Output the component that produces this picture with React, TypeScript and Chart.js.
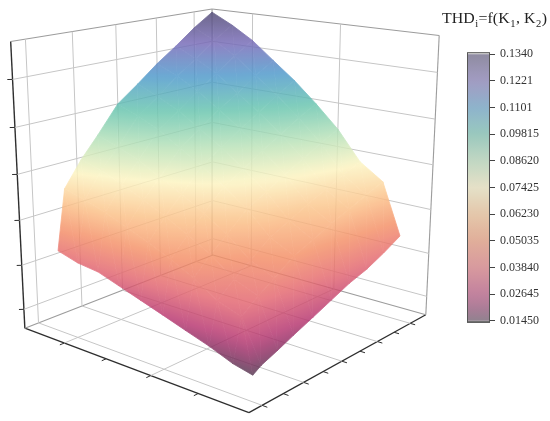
import React, { useEffect, useRef } from "react";
import { Chart, registerables } from "chart.js";

Chart.register(...registerables);

// ---------------- data ----------------
// K1 values (columns of the THD grid)
const K1 = [0.1, 0.2, 0.3, 0.4, 0.5, 0.6, 0.7, 0.78, 0.86, 0.9];
// K2 values (rows of the THD grid)
const K2 = [0.5, 0.75, 1.0, 1.25, 1.5, 1.75, 2.0, 2.25, 2.5, 2.7];

// THD_i = f(K1, K2): one row per K2 value, one column per K1 value
const THD_K2_050 = [0.134, 0.128, 0.121, 0.1145, 0.107, 0.1, 0.088, 0.079, 0.068, 0.041];
const THD_K2_075 = [0.129, 0.1233, 0.1165, 0.1103, 0.103, 0.0963, 0.0847, 0.0761, 0.0655, 0.0382];
const THD_K2_100 = [0.123, 0.1175, 0.1111, 0.1051, 0.0982, 0.0918, 0.0808, 0.0725, 0.0624, 0.037];
const THD_K2_125 = [0.115, 0.1098, 0.1038, 0.0982, 0.0918, 0.0858, 0.0755, 0.0678, 0.0583, 0.0337];
const THD_K2_150 = [0.1071, 0.1023, 0.0967, 0.0915, 0.0855, 0.0799, 0.0703, 0.0631, 0.0543, 0.0304];
const THD_K2_175 = [0.098, 0.0936, 0.0885, 0.0837, 0.0782, 0.0731, 0.0643, 0.0577, 0.0497, 0.0271];
const THD_K2_200 = [0.088, 0.0841, 0.0795, 0.0752, 0.0703, 0.0657, 0.0578, 0.0519, 0.0447, 0.0237];
const THD_K2_225 = [0.075, 0.0717, 0.0678, 0.0641, 0.0599, 0.056, 0.0493, 0.0442, 0.0381, 0.0204];
const THD_K2_250 = [0.0679, 0.0649, 0.0613, 0.0581, 0.0542, 0.0507, 0.0446, 0.0401, 0.0345, 0.0164];
const THD_K2_270 = [0.0448, 0.0403, 0.0364, 0.0337, 0.03, 0.0263, 0.0227, 0.0196, 0.0168, 0.0145];
const THD = [
  THD_K2_050, THD_K2_075, THD_K2_100, THD_K2_125, THD_K2_150,
  THD_K2_175, THD_K2_200, THD_K2_225, THD_K2_250, THD_K2_270,
];

// axis ranges and ticks (labels are hidden in the original)
const K1_AXIS = [0.1, 1.06];
const K2_AXIS = [0.5, 3.0];
const THD_AXIS = [0.0113, 0.1355];
const K1_TICKS = [0.2, 0.3, 0.4, 0.5, 0.6, 0.7, 0.8, 0.9, 1.0];
const K1_GRID = [0.2, 0.4, 0.6, 0.8, 1.0];
const K2_TICKS = [1.0, 1.5, 2.0, 2.5];
const K2_GRID = [1.0, 2.0];
const THD_TICKS = [0.02, 0.04, 0.06, 0.08, 0.1, 0.12];

// colour bar
const COLOR_RANGE = [0.0145, 0.134];
const CBAR_RANGE = [0.0136, 0.1349];
const CBAR_VALUES = [0.0145, 0.02645, 0.0384, 0.05035, 0.0623, 0.07425, 0.0862, 0.09815, 0.1101, 0.1221, 0.134];
const CBAR_LABELS = ["0.01450", "0.02645", "0.03840", "0.05035", "0.06230", "0.07425", "0.08620", "0.09815", "0.1101", "0.1221", "0.1340"];
const TITLE_PARTS: [string, boolean][] = [["THD", false], ["i", true], ["=f(K", false], ["1", true], [", K", false], ["2", true], [")", false]];

// ---------------- style / view ----------------
const VIEW = { azimuthDeg: 40, elevationDeg: 16, distance: 8.3 };
const VIEW_X_RANGE = [-1.5517, 2.1898];
const VIEW_Y_RANGE = [-1.6082, 1.2558];
const SURFACE_ALPHA = 0.82;
const GRID_COLOR = "#c6c6c6";
const EDGE_COLOR = "#9c9c9c";
const AXIS_COLOR = "#2e2e2e";
const SERIF = '"Liberation Serif", "DejaVu Serif", serif';

// colormap (apparent colours on white), position 0 = min, 1 = max
const CMAP: [number, number[]][] = [
  [0.0, [114, 88, 110]],
  [0.05, [160, 80, 125]],
  [0.1, [196, 88, 136]],
  [0.2, [232, 128, 136]],
  [0.3, [246, 162, 128]],
  [0.4, [252, 204, 156]],
  [0.5, [253, 246, 204]],
  [0.6, [194, 230, 196]],
  [0.7, [128, 206, 188]],
  [0.8, [108, 170, 212]],
  [0.9, [142, 132, 196]],
  [1.0, [110, 104, 140]],
];

function cmapRGB(t: number): number[] {
  const tt = Math.max(0, Math.min(1, t));
  for (let i = 0; i < CMAP.length - 1; i++) {
    const [t0, c0] = CMAP[i];
    const [t1, c1] = CMAP[i + 1];
    if (tt >= t0 && tt <= t1) {
      const k = (tt - t0) / (t1 - t0);
      return c0.map((c, j) => c + (c1[j] - c) * k);
    }
  }
  return CMAP[CMAP.length - 1][1];
}
function rgb(c: number[]) {
  return `rgb(${c.map((v) => Math.round(Math.max(0, Math.min(255, v)))).join(",")})`;
}
function surfaceColor(val: number) {
  const t = (val - COLOR_RANGE[0]) / (COLOR_RANGE[1] - COLOR_RANGE[0]);
  const c = cmapRGB(t);
  return rgb(c.map((v) => (v - (1 - SURFACE_ALPHA) * 255) / SURFACE_ALPHA));
}
function cbarColor(t: number) {
  const c = cmapRGB(t);
  return rgb(c.map((v) => 0.6 * v + 0.4 * 192));
}

// perspective projection of (K1, K2, THD) into view units
function project(k1: number, k2: number, t: number) {
  const az = (VIEW.azimuthDeg * Math.PI) / 180;
  const el = (VIEW.elevationDeg * Math.PI) / 180;
  const s = Math.sin(az), c = Math.cos(az), se = Math.sin(el), ce = Math.cos(el);
  const wx = -1 + (2 * (k1 - K1_AXIS[0])) / (K1_AXIS[1] - K1_AXIS[0]);
  const wy = -1 + (2 * (k2 - K2_AXIS[0])) / (K2_AXIS[1] - K2_AXIS[0]);
  const wz = -1 + (2 * (t - THD_AXIS[0])) / (THD_AXIS[1] - THD_AXIS[0]);
  const sx = -s * wx + c * wy;
  const dh = c * wx + s * wy;
  const up = ce * wz - se * dh;
  const depth = ce * dh + se * wz;
  const f = VIEW.distance / (VIEW.distance - depth);
  return { x: sx * f, y: up * f, depth };
}

type P3 = [number, number, number];
type Seg = { a: P3; b: P3; color: string; width: number };

function buildSegments(): Seg[] {
  const [a1, b1] = K1_AXIS;
  const [a2, b2] = K2_AXIS;
  const [za, zb] = THD_AXIS;
  const segs: Seg[] = [];
  const add = (a: P3, b: P3, color: string, width: number) => segs.push({ a, b, color, width });
  // grid on the left wall (K2 = min)
  K1_GRID.forEach((k) => add([k, a2, za], [k, a2, zb], GRID_COLOR, 1));
  THD_TICKS.forEach((t) => add([a1, a2, t], [b1, a2, t], GRID_COLOR, 1));
  // grid on the right wall (K1 = min)
  K2_GRID.forEach((k) => add([a1, k, za], [a1, k, zb], GRID_COLOR, 1));
  THD_TICKS.forEach((t) => add([a1, a2, t], [a1, b2, t], GRID_COLOR, 1));
  // floor grid
  K1_GRID.forEach((k) => add([k, a2, za], [k, b2, za], GRID_COLOR, 1));
  K2_GRID.forEach((k) => add([a1, k, za], [b1, k, za], GRID_COLOR, 1));
  // box edges
  add([a1, a2, za], [a1, a2, zb], EDGE_COLOR, 1.1);
  add([a1, b2, za], [a1, b2, zb], EDGE_COLOR, 1.1);
  add([a1, a2, zb], [b1, a2, zb], EDGE_COLOR, 1.1);
  add([a1, a2, zb], [a1, b2, zb], EDGE_COLOR, 1.1);
  add([a1, a2, za], [b1, a2, za], EDGE_COLOR, 1.1);
  add([a1, a2, za], [a1, b2, za], EDGE_COLOR, 1.1);
  // front axes
  add([b1, a2, za], [b1, a2, zb], AXIS_COLOR, 1.4);
  add([b1, a2, za], [b1, b2, za], AXIS_COLOR, 1.3);
  add([b1, b2, za], [a1, b2, za], AXIS_COLOR, 1.3);
  // ticks
  const d1 = (b1 - a1) * 0.02;
  const d2 = (b2 - a2) * 0.02;
  THD_TICKS.forEach((t) => add([b1, a2, t], [b1 + d1 * 0.6, a2 - d2 * 0.6, t], AXIS_COLOR, 1));
  K2_TICKS.forEach((k) => add([b1, k, za], [b1 + d1, k, za], AXIS_COLOR, 1));
  K1_TICKS.forEach((k) => add([k, b2, za], [k, b2 + d2, za], AXIS_COLOR, 1));
  return segs;
}

const surfacePlugin = {
  id: "thdSurface",
  afterDatasetsDraw(chart: any) {
    const xs = chart.scales.x;
    const ys = chart.scales.y;
    const verts = THD.map((row, j) =>
      row.map((v, i) => {
        const p = project(K1[i], K2[j], v);
        return { X: xs.getPixelForValue(p.x), Y: ys.getPixelForValue(p.y), v, d: p.depth };
      })
    );
    const tris: any[] = [];
    for (let j = 0; j < K2.length - 1; j++) {
      for (let i = 0; i < K1.length - 1; i++) {
        const p00 = verts[j][i], p10 = verts[j][i + 1], p11 = verts[j + 1][i + 1], p01 = verts[j + 1][i];
        tris.push([p00, p10, p11]);
        tris.push([p00, p11, p01]);
      }
    }
    tris.sort((A, B) => A[0].d + A[1].d + A[2].d - (B[0].d + B[1].d + B[2].d));
    const dpr = chart.currentDevicePixelRatio || 1;
    const off = document.createElement("canvas");
    off.width = chart.canvas.width;
    off.height = chart.canvas.height;
    const g = off.getContext("2d")!;
    g.setTransform(dpr, 0, 0, dpr, 0, 0);
    g.lineJoin = "round";
    for (const [q0, q1, q2] of tris) {
      const det = (q1.X - q0.X) * (q2.Y - q0.Y) - (q2.X - q0.X) * (q1.Y - q0.Y);
      const lo = Math.min(q0.v, q1.v, q2.v);
      const hi = Math.max(q0.v, q1.v, q2.v);
      let style: any;
      if (Math.abs(det) < 1e-6 || hi - lo < 1e-9) {
        style = surfaceColor((q0.v + q1.v + q2.v) / 3);
      } else {
        const a = ((q1.v - q0.v) * (q2.Y - q0.Y) - (q2.v - q0.v) * (q1.Y - q0.Y)) / det;
        const b = ((q1.X - q0.X) * (q2.v - q0.v) - (q2.X - q0.X) * (q1.v - q0.v)) / det;
        const g2 = a * a + b * b;
        if (g2 < 1e-18) {
          style = surfaceColor((q0.v + q1.v + q2.v) / 3);
        } else {
          const x0 = q0.X + ((lo - q0.v) * a) / g2, y0 = q0.Y + ((lo - q0.v) * b) / g2;
          const x1 = q0.X + ((hi - q0.v) * a) / g2, y1 = q0.Y + ((hi - q0.v) * b) / g2;
          const grad = g.createLinearGradient(x0, y0, x1, y1);
          const N = 8;
          for (let k = 0; k <= N; k++) grad.addColorStop(k / N, surfaceColor(lo + ((hi - lo) * k) / N));
          style = grad;
        }
      }
      g.beginPath();
      g.moveTo(q0.X, q0.Y);
      g.lineTo(q1.X, q1.Y);
      g.lineTo(q2.X, q2.Y);
      g.closePath();
      g.fillStyle = style;
      g.strokeStyle = style;
      g.lineWidth = 0.8;
      g.fill();
      g.stroke();
    }
    const ctx = chart.ctx;
    ctx.save();
    ctx.setTransform(1, 0, 0, 1, 0, 0);
    ctx.globalAlpha = SURFACE_ALPHA;
    ctx.drawImage(off, 0, 0);
    ctx.restore();
  },
};

const titlePlugin = {
  id: "thdTitle",
  afterDraw(chart: any) {
    const ctx = chart.ctx;
    ctx.save();
    const mainFont = `15px ${SERIF}`;
    const subFont = `10px ${SERIF}`;
    let total = 0;
    const widths = TITLE_PARTS.map(([txt, sub]) => {
      ctx.font = sub ? subFont : mainFont;
      const w = ctx.measureText(txt).width + (sub ? 1 : 0);
      total += w;
      return w;
    });
    const target = 105;
    ctx.translate(442, 23);
    ctx.scale(target / total, 1);
    ctx.fillStyle = "#222";
    ctx.textBaseline = "alphabetic";
    ctx.textAlign = "left";
    let x = 0;
    TITLE_PARTS.forEach(([txt, sub], i) => {
      ctx.font = sub ? subFont : mainFont;
      ctx.fillText(txt, x + (sub ? 0.5 : 0), sub ? 4 : 0);
      x += widths[i];
    });
    ctx.restore();
  },
};

const colorbarPlugin = {
  id: "thdColorbar",
  beforeDatasetsDraw(chart: any) {
    const { ctx, chartArea: a } = chart;
    const y = chart.scales.y;
    const w = a.right - a.left;
    const yTop = y.getPixelForValue(COLOR_RANGE[1]);
    const yBot = y.getPixelForValue(COLOR_RANGE[0]);
    ctx.save();
    ctx.fillStyle = "#dcdcdc";
    ctx.fillRect(a.left, a.top, w, yTop - a.top);
    ctx.fillStyle = "#767676";
    ctx.fillRect(a.left, yBot, w, a.bottom - yBot);
    const grad = ctx.createLinearGradient(0, yBot, 0, yTop);
    const N = 44;
    for (let k = 0; k <= N; k++) grad.addColorStop(k / N, cbarColor(k / N));
    ctx.fillStyle = grad;
    ctx.fillRect(a.left, yTop, w, yBot - yTop);
    ctx.strokeStyle = "#555";
    ctx.lineWidth = 1;
    ctx.strokeRect(a.left + 0.5, a.top + 0.5, w - 1, a.bottom - a.top - 1);
    ctx.restore();
  },
};

export default function App() {
  const mainRef = useRef<HTMLCanvasElement>(null);
  const barRef = useRef<HTMLCanvasElement>(null);

  useEffect(() => {
    const segs = buildSegments();
    const main = new Chart(mainRef.current!, {
      type: "scatter",
      data: {
        datasets: segs.map((s) => ({
          data: [project(...s.a), project(...s.b)].map((p) => ({ x: p.x, y: p.y })),
          showLine: true,
          borderColor: s.color,
          borderWidth: s.width,
          pointRadius: 0,
          pointHoverRadius: 0,
          fill: false,
          tension: 0,
          borderCapStyle: "butt",
        })),
      },
      options: {
        responsive: false,
        animation: false,
        events: [],
        layout: { padding: 0 },
        plugins: { legend: { display: false }, tooltip: { enabled: false }, title: { display: false } },
        scales: {
          x: { type: "linear", display: false, min: VIEW_X_RANGE[0], max: VIEW_X_RANGE[1] },
          y: { type: "linear", display: false, min: VIEW_Y_RANGE[0], max: VIEW_Y_RANGE[1] },
        },
      },
      plugins: [surfacePlugin, titlePlugin],
    } as any);

    const bar = new Chart(barRef.current!, {
      type: "scatter",
      data: {
        datasets: [{ data: CBAR_VALUES.map((v) => ({ x: 0.5, y: v })), pointRadius: 0, pointHoverRadius: 0 }],
      },
      options: {
        responsive: false,
        animation: false,
        events: [],
        layout: { padding: { left: 27, top: 12, bottom: 12, right: 0 } },
        plugins: { legend: { display: false }, tooltip: { enabled: false } },
        scales: {
          x: { type: "linear", display: false, min: 0, max: 1 },
          y: {
            type: "linear",
            position: "right",
            min: CBAR_RANGE[0],
            max: CBAR_RANGE[1],
            afterBuildTicks: (axis: any) => {
              axis.ticks = CBAR_VALUES.map((v) => ({ value: v }));
            },
            afterFit: (axis: any) => {
              axis.width = 60;
            },
            ticks: {
              autoSkip: false,
              padding: 5,
              color: "#333",
              font: { family: SERIF, size: 12 },
              callback: (_v: any, i: number) => CBAR_LABELS[i],
            },
            grid: { drawOnChartArea: false, drawTicks: true, tickLength: 5, tickColor: "#444", tickWidth: 1 },
            border: { display: false },
          },
        },
      },
      plugins: [colorbarPlugin],
    } as any);

    return () => {
      main.destroy();
      bar.destroy();
    };
  }, []);

  return (
    <div style={{ position: "fixed", left: 0, top: 0, width: 550, height: 421, background: "#fff", overflow: "hidden" }}>
      <canvas ref={mainRef} width={550} height={421} style={{ position: "absolute", left: 0, top: 0, width: 550, height: 421 }} />
      <canvas ref={barRef} width={110} height={295} style={{ position: "absolute", left: 440, top: 40, width: 110, height: 295 }} />
    </div>
  );
}
